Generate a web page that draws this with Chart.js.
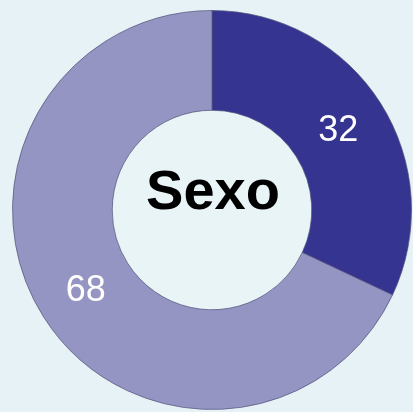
<!DOCTYPE html>
<html lang="es">
<head>
    <meta charset="UTF-8">
    <title>Sexo</title>
    <script src="https://cdn.jsdelivr.net/npm/chart.js"></script>
    <style>
        body { margin: 0; background: #e6f2f5; }
    </style>
</head>
<body>
    <canvas id="sexoChart" width="413" height="412"></canvas>

    <script>
        const labels = ['Mujeres', 'Hombres'];
        const values = [32, 68];
        const colors = ['#353591', '#9595c3'];
        const centerTitle = 'Sexo';

        // draws the hole, the title in the middle and the value on each slice
        const sliceLabels = {
            id: 'sliceLabels',
            beforeDatasetsDraw(chart) {
                const arc = chart.getDatasetMeta(0).data[0];
                const ctx = chart.ctx;
                ctx.save();
                ctx.fillStyle = '#e9f4f6';
                ctx.beginPath();
                ctx.arc(arc.x, arc.y, arc.innerRadius, 0, Math.PI * 2);
                ctx.fill();
                ctx.restore();
            },
            afterDatasetsDraw(chart) {
                const ctx = chart.ctx;
                const meta = chart.getDatasetMeta(0);
                ctx.save();
                ctx.textAlign = 'center';
                ctx.textBaseline = 'middle';
                ctx.fillStyle = '#ffffff';
                ctx.font = '36px "Liberation Sans", Arial, sans-serif';
                meta.data.forEach((el, i) => {
                    const p = el.getCenterPoint();
                    ctx.fillText(String(values[i]), p.x, p.y + 1);
                });
                const c = meta.data[0];
                ctx.fillStyle = '#000000';
                ctx.font = 'bold 56px "Liberation Sans", Arial, sans-serif';
                ctx.fillText(centerTitle, c.x + 1, c.y - 16);
                ctx.restore();
            }
        };

        new Chart(document.getElementById('sexoChart'), {
            type: 'doughnut',
            data: {
                labels: labels,
                datasets: [{
                    data: values,
                    backgroundColor: colors,
                    borderColor: 'rgba(80, 80, 120, 0.7)',
                    borderWidth: 1
                }]
            },
            options: {
                responsive: false,
                animation: false,
                cutout: '50%',
                layout: { padding: { left: 12, right: 1, top: 10, bottom: 2 } },
                plugins: {
                    legend: { display: false },
                    tooltip: { enabled: false }
                }
            },
            plugins: [sliceLabels]
        });
    </script>
</body>
</html>
